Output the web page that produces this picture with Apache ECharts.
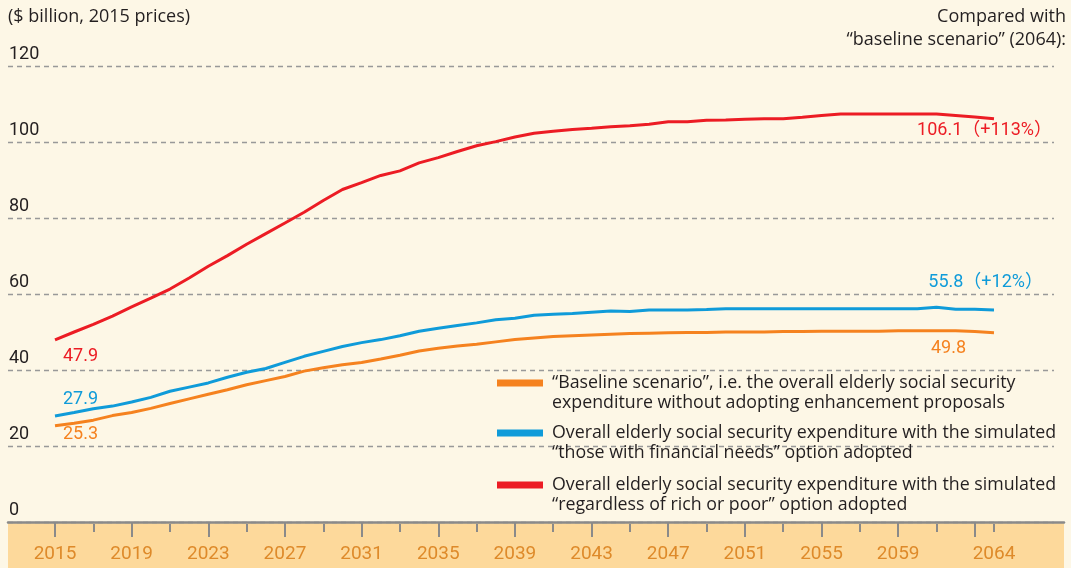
<!DOCTYPE html>
<html>
<head>
<meta charset="utf-8">
<title>Elderly social security expenditure</title>
<script src="https://cdn.jsdelivr.net/npm/echarts@6/dist/echarts.min.js"></script>
<style>
  html, body { margin: 0; padding: 0; background: #fdf7e6; }
  #myChart { width: 1071px; height: 568px; }
</style>
</head>
<body>
<div id="myChart"></div>
<script>
  // years on the x axis
  const years = [
    '2015', '2016', '2017', '2018', '2019', '2020', '2021', '2022', '2023', '2024',
    '2025', '2026', '2027', '2028', '2029', '2030', '2031', '2032', '2033', '2034',
    '2035', '2036', '2037', '2038', '2039', '2040', '2041', '2042', '2043', '2044',
    '2045', '2046', '2047', '2048', '2049', '2050', '2051', '2052', '2053', '2054',
    '2055', '2056', '2057', '2058', '2059', '2060', '2061', '2062', '2063', '2064'
  ];

  // $ billion, 2015 prices
  const baseline = [
    25.3, 26.0, 26.8, 28.0, 28.8, 29.9, 31.2, 32.4, 33.6, 34.8,
    36.1, 37.2, 38.3, 39.7, 40.6, 41.4, 42.0, 42.9, 43.9, 45.0,
    45.7, 46.3, 46.8, 47.4, 48.0, 48.4, 48.8, 49.0, 49.2, 49.4,
    49.6, 49.7, 49.8, 49.9, 49.9, 50.0, 50.0, 50.0, 50.1, 50.1,
    50.2, 50.2, 50.2, 50.2, 50.3, 50.3, 50.3, 50.3, 50.1, 49.8
  ];
  const financialNeeds = [
    27.9, 28.8, 29.8, 30.5, 31.6, 32.8, 34.4, 35.5, 36.6, 38.1,
    39.4, 40.4, 42.0, 43.6, 44.9, 46.2, 47.2, 48.0, 49.0, 50.2,
    51.0, 51.7, 52.4, 53.2, 53.6, 54.4, 54.7, 54.9, 55.2, 55.5,
    55.4, 55.8, 55.8, 55.8, 55.9, 56.1, 56.1, 56.1, 56.1, 56.1,
    56.1, 56.1, 56.1, 56.1, 56.1, 56.1, 56.5, 56.0, 56.0, 55.8
  ];
  const richOrPoor = [
    47.9, 50.0, 52.0, 54.2, 56.6, 58.9, 61.3, 64.2, 67.3, 70.1,
    73.1, 75.9, 78.7, 81.5, 84.6, 87.5, 89.3, 91.2, 92.4, 94.5,
    95.9, 97.5, 99.0, 100.1, 101.3, 102.3, 102.8, 103.3, 103.6, 104.0,
    104.3, 104.7, 105.3, 105.3, 105.7, 105.8, 106.0, 106.1, 106.1, 106.5,
    107.0, 107.4, 107.4, 107.4, 107.4, 107.4, 107.4, 107.0, 106.6, 106.1
  ];

  const seriesNames = [
    '"Baseline scenario", i.e. the overall elderly social security expenditure without adopting enhancement proposals',
    'Overall elderly social security expenditure with the simulated "those with financial needs" option adopted',
    'Overall elderly social security expenditure with the simulated "regardless of rich or poor" option adopted'
  ];
  const legendLines = [
    ['\u201cBaseline scenario\u201d, i.e. the overall elderly social security', 'expenditure without adopting enhancement proposals'],
    ['Overall elderly social security expenditure with the simulated', '\u201cthose with financial needs\u201d option adopted'],
    ['Overall elderly social security expenditure with the simulated', '\u201cregardless of rich or poor\u201d option adopted']
  ];

  const colors = ['#f5821f', '#0f9bd9', '#ec1c24'];
  const textFont = "'Open Sans', Lato, sans-serif";
  const numFont = "Roboto, 'Noto Sans CJK SC', sans-serif";
  const last = years.length - 1;

  function pctText(v) {
    return v.toFixed(1) + '\uff08+' + Math.round((v / baseline[last] - 1) * 100) + '%\uff09';
  }

  // start / end value labels
  function valueMarks(values, color, startOff, endOff, endAlign, withPct) {
    return {
      symbol: 'circle',
      symbolSize: 0,
      silent: true,
      label: {
        show: true,
        color: color,
        fontFamily: numFont,
        fontSize: 18,
        verticalAlign: 'middle'
      },
      data: [
        {
          coord: [years[0], values[0]],
          label: { offset: startOff, align: 'left', formatter: values[0].toFixed(1) }
        },
        {
          coord: [years[last], values[last]],
          label: {
            offset: endOff,
            align: endAlign,
            formatter: withPct ? pctText(values[last]) : values[last].toFixed(1)
          }
        }
      ]
    };
  }

  const seriesData = [baseline, financialNeeds, richOrPoor];
  const marks = [
    valueMarks(baseline, colors[0], [8, 9], [-28, 16], 'right', false),
    valueMarks(financialNeeds, colors[1], [8, -16], [49, -27], 'right', true),
    valueMarks(richOrPoor, colors[2], [8, 17], [58, 12], 'right', true)
  ];
  const legendTops = [353, 403, 455];

  let myChart = echarts.init(document.getElementById('myChart'));
  myChart.setOption({
    backgroundColor: '#fdf7e6',
    animation: false,
    graphic: [
      {
        type: 'text', x: 8, y: 17,
        style: {
          text: '($ billion, 2015 prices)', fill: '#231f20',
          fontFamily: textFont, fontSize: 18, verticalAlign: 'middle'
        }
      },
      {
        type: 'text', x: 1066, y: 5,
        style: {
          text: 'Compared with\n\u201cbaseline scenario\u201d (2064):', fill: '#231f20',
          fontFamily: textFont, fontSize: 18, lineHeight: 23,
          align: 'right', verticalAlign: 'top'
        }
      }
    ],
    legend: seriesNames.map((n, k) => ({
      data: [{ name: n, icon: 'rect' }],
      left: 497,
      top: legendTops[k],
      padding: 0,
      itemWidth: 46,
      itemHeight: 7,
      selectedMode: false,
      formatter: () => '\n' + legendLines[k].join('\n'),
      textStyle: {
        fontFamily: textFont, fontSize: 17.8, lineHeight: 20,
        color: '#231f20', padding: [0, 0, 0, 4]
      }
    })),
    grid: [
      { left: 55, right: 77, top: 66, bottom: 46 },
      { left: 8, right: 17, top: 66, bottom: 46 },
      { left: 8, right: 7, top: 522, bottom: 0, show: true, backgroundColor: '#fdd99b', borderWidth: 0 }
    ],
    xAxis: [
      {
        type: 'category', gridIndex: 0, data: years, boundaryGap: false,
        position: 'bottom', offset: 2,
        axisLine: { show: false },
        axisTick: {
          interval: (i) => i % 4 === 0,
          length: 15,
          lineStyle: { color: '#8a8a8a', width: 2 }
        },
        axisLabel: {
          interval: (i) => (i % 4 === 0 && i < 48) || i === last,
          margin: 21,
          color: '#de8a2a',
          fontFamily: numFont,
          fontSize: 19
        },
        splitLine: { show: false }
      },
      { type: 'value', gridIndex: 1, show: false },
      {
        type: 'value', gridIndex: 2, position: 'top',
        axisLine: { show: true, onZero: false, lineStyle: { color: '#8a8a8a', width: 2.5 } },
        axisTick: { show: false }, axisLabel: { show: false }, splitLine: { show: false }
      },
      {
        type: 'category', gridIndex: 0, data: years, boundaryGap: false,
        position: 'bottom', offset: 2,
        axisLine: { show: false, onZero: false },
        axisTick: {
          interval: (i) => i % 2 === 0 || i === last,
          length: 8,
          lineStyle: { color: '#8a8a8a', width: 2 }
        },
        axisLabel: { show: false },
        splitLine: { show: false }
      }
    ],
    yAxis: [
      { type: 'value', gridIndex: 0, min: 0, max: 120, interval: 20, show: false },
      {
        type: 'value', gridIndex: 1, min: 0, max: 120, interval: 20,
        axisLine: { show: false }, axisTick: { show: false },
        axisLabel: {
          inside: true, margin: 1, verticalAlign: 'bottom', padding: [0, 0, 3, 0],
          color: '#231f20', fontFamily: numFont, fontSize: 18
        },
        splitLine: { lineStyle: { color: '#999999', type: [5, 4], width: 1.3 } }
      },
      { type: 'value', gridIndex: 2, show: false, min: 0, max: 1 }
    ],
    series: seriesNames.map((n, k) => ({
      name: n,
      type: 'line',
      xAxisIndex: 0,
      yAxisIndex: 0,
      data: seriesData[k],
      color: colors[k],
      showSymbol: false,
      lineStyle: { width: 3, color: colors[k] },
      markPoint: marks[k],
      z: 3 + k
    }))
  });
</script>
</body>
</html>
